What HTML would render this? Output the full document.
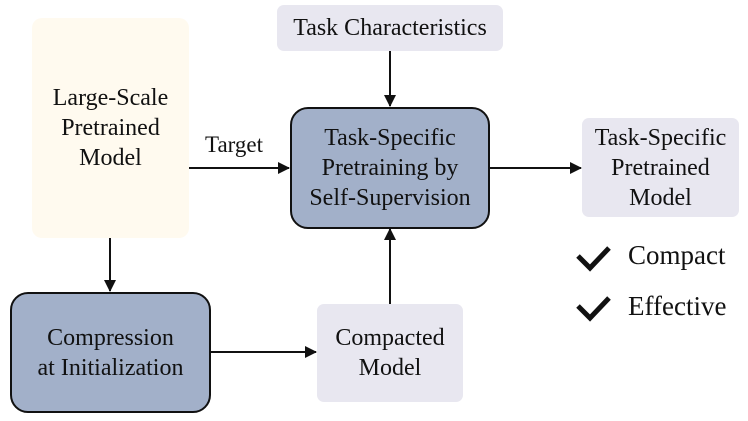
<!DOCTYPE html>
<html><head><style>
body{margin:0;width:748px;height:421px;background:#fff;overflow:hidden;position:relative;color:#111}
*{font-family:"Liberation Serif","Times New Roman","DejaVu Serif",serif}
.b{position:absolute;box-sizing:border-box;display:flex;align-items:center;justify-content:center;text-align:center;font-size:24px;line-height:30px}
.dark{background:#a2b0c9;border:2px solid #111;border-radius:18px}
.light{background:#e8e7f0;border-radius:7px}
.t{position:absolute;font-size:23px;white-space:nowrap}
</style></head><body>
<div class="b" style="left:32px;top:18px;width:157px;height:220px;background:#fffaef;border-radius:10px">Large-Scale<br>Pretrained<br>Model</div>
<div class="b light" style="left:277px;top:5px;width:226px;height:46px">Task Characteristics</div>
<div class="b dark" style="left:290px;top:107px;width:200px;height:122px">Task-Specific<br>Pretraining by<br>Self-Supervision</div>
<div class="b light" style="left:582px;top:118px;width:157px;height:99px">Task-Specific<br>Pretrained<br>Model</div>
<div class="b dark" style="left:10px;top:292px;width:201px;height:121px">Compression<br>at Initialization</div>
<div class="b light" style="left:317px;top:304px;width:146px;height:98px">Compacted<br>Model</div>
<div class="t" style="left:205px;top:132px">Target</div>
<div class="t" style="left:628px;top:240px;font-size:27px">Compact</div>
<div class="t" style="left:628px;top:291px;font-size:27px">Effective</div>
<svg width="748" height="421" style="position:absolute;left:0;top:0">
<defs><marker id="a" markerWidth="12" markerHeight="12" refX="11" refY="6" orient="auto" markerUnits="userSpaceOnUse"><path d="M0,0 L12,6 L0,12z" fill="#111"/></marker></defs>
<g stroke="#111" stroke-width="2" fill="none">
<line x1="189" y1="168" x2="289" y2="168" marker-end="url(#a)"/>
<line x1="390" y1="51" x2="390" y2="106" marker-end="url(#a)"/>
<line x1="490" y1="168" x2="581" y2="168" marker-end="url(#a)"/>
<line x1="110" y1="238" x2="110" y2="291" marker-end="url(#a)"/>
<line x1="211" y1="352" x2="316" y2="352" marker-end="url(#a)"/>
<line x1="390" y1="304" x2="390" y2="229" marker-end="url(#a)"/>
</g>
<g stroke="#111" stroke-width="5" fill="none">
<path d="M578,256 L590,268 L609,248"/>
<path d="M578,306 L590,318 L609,298"/>
</g>
</svg>
</body></html>
